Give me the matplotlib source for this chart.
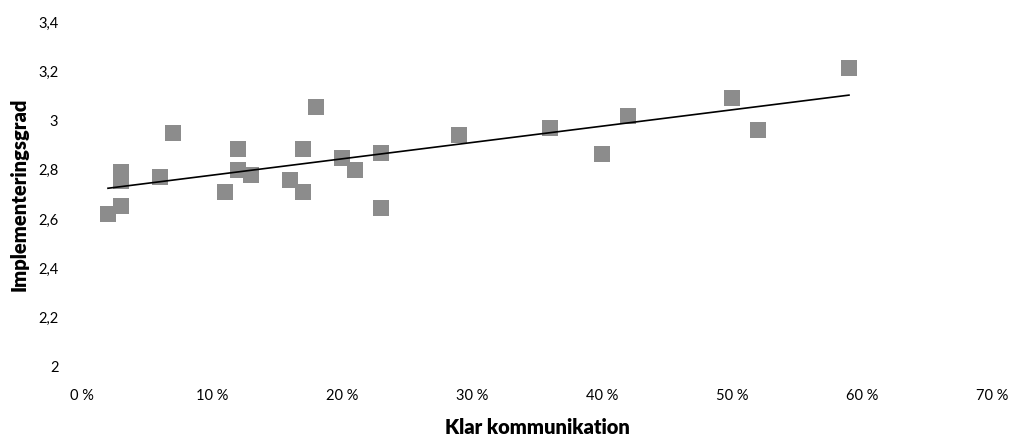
import numpy as np
import matplotlib.pyplot as plt
from matplotlib.ticker import FuncFormatter

# Klar kommunikation (%) och implementeringsgrad
klar_kommunikation = [2, 3, 3, 3, 6, 7, 11, 12, 12, 13, 16, 17, 17, 18, 20, 21, 23, 23,
                      29, 36, 40, 42, 50, 52, 59]
implementeringsgrad = [2.62, 2.655, 2.79, 2.755, 2.77, 2.95, 2.71, 2.885, 2.80, 2.78,
                       2.76, 2.885, 2.71, 3.055, 2.85, 2.80, 2.87, 2.645,
                       2.94, 2.97, 2.865, 3.02, 3.09, 2.96, 3.215]

x_ticks = [0, 10, 20, 30, 40, 50, 60, 70]
y_ticks = [2, 2.2, 2.4, 2.6, 2.8, 3, 3.2, 3.4]

plt.rcParams['font.family'] = ['Lato', 'DejaVu Sans']

fig = plt.figure(figsize=(10.11, 4.36), dpi=100)
ax = fig.add_axes([0.0811, 0.1583, 0.9001, 0.7912])

x = np.array(klar_kommunikation, dtype=float)
y = np.array(implementeringsgrad)

ax.scatter(x, y, marker='s', s=118, color='#8c8c8c', linewidths=0, zorder=2)

# linjär trendlinje
k, m = np.polyfit(x, y, 1)
xs = np.array([x.min(), x.max()])
ax.plot(xs, k * xs + m, color='black', linewidth=1.2, zorder=3)

ax.set_xlim(0, 70)
ax.set_ylim(2, 3.4)
ax.set_xticks(x_ticks)
ax.set_yticks(y_ticks)
ax.xaxis.set_major_formatter(FuncFormatter(lambda v, p: f"{int(round(v))} %"))
ax.yaxis.set_major_formatter(FuncFormatter(lambda v, p: f"{v:g}".replace('.', ',')))

for s in ax.spines.values():
    s.set_visible(False)
ax.tick_params(axis='both', length=0, labelsize=10.5, colors='black')
ax.tick_params(axis='y', pad=17)
ax.tick_params(axis='x', pad=16)

ax.set_xlabel("Klar kommunikation", fontsize=14.5, fontweight='heavy', labelpad=11)
ax.set_ylabel("Implementeringsgrad", fontsize=14.5, fontweight='heavy', labelpad=7)

fig.savefig("out.png", dpi=100)
